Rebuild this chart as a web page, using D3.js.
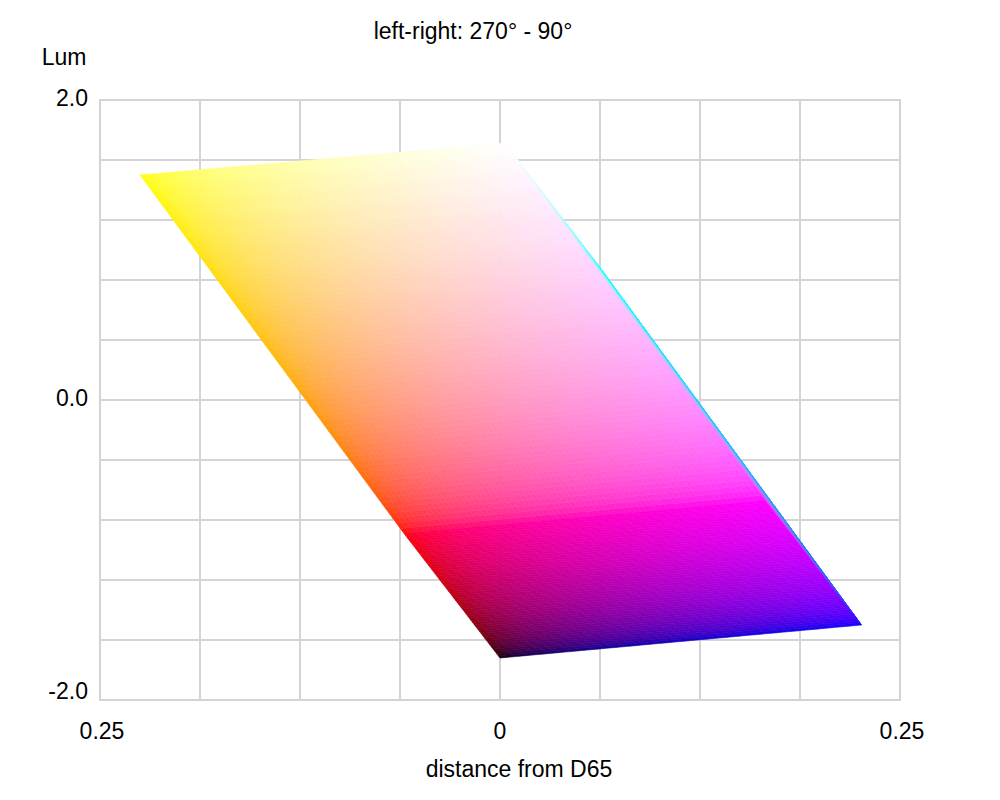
<!DOCTYPE html>
<html>
<head>
<meta charset="utf-8">
<script src="https://cdn.jsdelivr.net/npm/d3@7"></script>
<style>
  body { margin: 0; background: #fff; }
  svg text { font-family: "Liberation Sans", Arial, sans-serif; fill: #000; }
</style>
</head>
<body>
<svg id="chart" width="1000" height="800"></svg>
<script>
// ---- data ----
const titleText = "left-right: 270° - 90°";
const xAxisTitle = "distance from D65";
const yAxisTitle = "Lum";
const xTickValues = [-0.25, 0, 0.25];
const xTickLabels = ["0.25", "0", "0.25"];
const yTickValues = [2.0, 0.0, -2.0];
const yTickLabels = ["2.0", "0.0", "-2.0"];
const xGridValues = [-0.25, -0.1875, -0.125, -0.0625, 0, 0.0625, 0.125, 0.1875, 0.25];
const yGridValues = [-2.0, -1.6, -1.2, -0.8, -0.4, 0.0, 0.4, 0.8, 1.2, 1.6, 2.0];

// RGB cube corners projected: distance from D65 (x) and luminance (y)
const cornerNames = ["black", "red", "green", "yellow", "blue", "magenta", "cyan", "white"];
const cornerRGB = [[0,0,0],[1,0,0],[0,1,0],[1,1,0],[0,0,1],[1,0,1],[0,1,1],[1,1,1]];
const cornerDist = [0.0, -0.060, -0.165, -0.225, 0.226, 0.166, 0.0625, 0.003];
const cornerLum = [-1.72, -0.89, 0.67, 1.50, -1.50, -0.67, 0.883, 1.713];

// visible faces (corner order around each face)
const faceCorners = [
  ["red", "yellow", "white", "magenta"],
  ["black", "red", "magenta", "blue"],
  ["magenta", "white", "cyan", "blue"]
];
const faceSteps = [70, 56, 40];

// ---- layout ----
const svg = d3.select("#chart");
const x = d3.scaleLinear().domain([-0.25, 0.25]).range([100, 900]);
const y = d3.scaleLinear().domain([-2, 2]).range([700, 100]);

// grid
const grid = svg.append("g").attr("stroke", "#d4d4d4").attr("stroke-width", 2);
grid.selectAll("line.v").data(xGridValues).join("line").attr("class", "v")
  .attr("x1", d => x(d)).attr("x2", d => x(d)).attr("y1", y(-2) + 1).attr("y2", y(2) - 1);
grid.selectAll("line.h").data(yGridValues).join("line").attr("class", "h")
  .attr("y1", d => y(d)).attr("y2", d => y(d)).attr("x1", x(-0.25) - 1).attr("x2", x(0.25) + 1);

// faces as bilinear meshes (linear-light interpolation, sRGB encoded)
const corner = name => {
  const i = cornerNames.indexOf(name);
  return { p: [cornerDist[i], cornerLum[i]], c: cornerRGB[i] };
};
const lerp = (a, b, t) => a + (b - a) * t;
const bil = (A, B, C, D, u, v, k) => lerp(lerp(A[k], B[k], u), lerp(D[k], C[k], u), v);
const encode = c => c <= 0.0031308 ? 12.92 * c : 1.055 * Math.pow(c, 1 / 2.4) - 0.055;

const cells = [];
faceCorners.forEach((fc, fi) => {
  const [A, B, C, D] = fc.map(corner);
  const n = faceSteps[fi];
  const pt = (u, v) => [bil(A.p, B.p, C.p, D.p, u, v, 0), bil(A.p, B.p, C.p, D.p, u, v, 1)];
  for (let i = 0; i < n; i++) {
    for (let j = 0; j < n; j++) {
      const u0 = i / n, u1 = (i + 1) / n, v0 = j / n, v1 = (j + 1) / n;
      const um = (u0 + u1) / 2, vm = (v0 + v1) / 2;
      const col = [0, 1, 2].map(k => Math.round(255 * encode(bil(A.c, B.c, C.c, D.c, um, vm, k))));
      cells.push({ pts: [pt(u0, v0), pt(u1, v0), pt(u1, v1), pt(u0, v1)], col: `rgb(${col[0]},${col[1]},${col[2]})` });
    }
  }
});

svg.append("g").selectAll("path").data(cells).join("path")
  .attr("d", d => "M" + d.pts.map(p => x(p[0]) + "," + y(p[1])).join("L") + "Z")
  .attr("fill", d => d.col)
  .attr("stroke", d => d.col)
  .attr("stroke-width", 0.6);

// axes text
const fs = 23;
svg.append("text").attr("x", 473).attr("y", 31).attr("text-anchor", "middle")
  .attr("dominant-baseline", "central").attr("font-size", fs).text(titleText);
svg.append("text").attr("x", 64).attr("y", 57).attr("text-anchor", "middle")
  .attr("dominant-baseline", "central").attr("font-size", fs).text(yAxisTitle);
svg.selectAll("text.yt").data(yTickValues).join("text").attr("class", "yt")
  .attr("x", 88).attr("y", (d, i) => y(d) - (i === 2 ? 9 : 2)).attr("text-anchor", "end")
  .attr("dominant-baseline", "central").attr("font-size", fs).text((d, i) => yTickLabels[i]);
svg.selectAll("text.xt").data(xTickValues).join("text").attr("class", "xt")
  .attr("x", d => x(d) + (d === 0 ? 0 : 2)).attr("y", 731).attr("text-anchor", "middle")
  .attr("dominant-baseline", "central").attr("font-size", fs).text((d, i) => xTickLabels[i]);
svg.append("text").attr("x", 519).attr("y", 769).attr("text-anchor", "middle")
  .attr("dominant-baseline", "central").attr("font-size", fs).text(xAxisTitle);
</script>
</body>
</html>
